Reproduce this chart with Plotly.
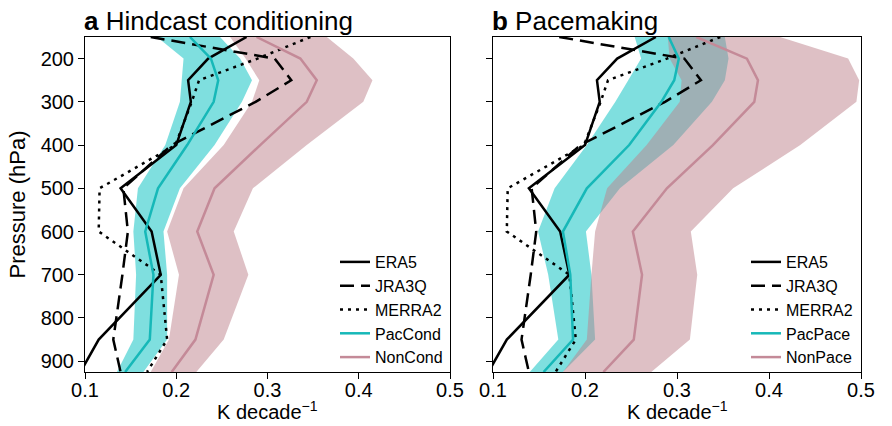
import plotly.graph_objects as go

# Pressure levels (hPa)
pressure = [150, 200, 250, 300, 400, 500, 600, 700, 850, 925]

# Observations / reanalyses (K decade^-1)
era5 = [0.277, 0.235, 0.213, 0.216, 0.200, 0.139, 0.173, 0.183, 0.115, 0.095]
jra3q = [0.172, 0.308, 0.326, 0.287, 0.195, 0.142, 0.147, 0.141, 0.131, 0.139]
merra2 = [0.347, 0.289, 0.225, 0.217, 0.199, 0.116, 0.115, 0.183, 0.190, 0.168]

# Panel a: hindcast conditioning
paccond_mean = [0.215, 0.238, 0.246, 0.241, 0.212, 0.180, 0.166, 0.175, 0.171, 0.144]
paccond_lo = [0.179, 0.208, 0.206, 0.204, 0.188, 0.158, 0.153, 0.156, 0.153, 0.135]
paccond_hi = [0.248, 0.270, 0.283, 0.272, 0.242, 0.204, 0.186, 0.190, 0.190, 0.164]
noncond_mean = [0.288, 0.336, 0.354, 0.343, 0.292, 0.242, 0.223, 0.241, 0.221, 0.195]
noncond_lo = [0.259, 0.276, 0.291, 0.283, 0.252, 0.208, 0.190, 0.203, 0.192, 0.172]
noncond_hi = [0.365, 0.394, 0.415, 0.405, 0.343, 0.284, 0.263, 0.279, 0.252, 0.222]

# Panel b: pacemaking
pacpace_mean = [0.291, 0.302, 0.297, 0.283, 0.248, 0.202, 0.176, 0.184, 0.187, 0.155]
pacpace_lo = [0.254, 0.261, 0.247, 0.233, 0.202, 0.167, 0.149, 0.160, 0.171, 0.140]
pacpace_hi = [0.352, 0.356, 0.352, 0.338, 0.296, 0.238, 0.201, 0.207, 0.211, 0.176]
nonpace_mean = [0.321, 0.376, 0.388, 0.384, 0.339, 0.289, 0.252, 0.262, 0.253, 0.220]
nonpace_lo = [0.290, 0.292, 0.305, 0.303, 0.267, 0.224, 0.211, 0.207, 0.202, 0.176]
nonpace_hi = [0.412, 0.486, 0.498, 0.495, 0.434, 0.361, 0.315, 0.322, 0.314, 0.272]

x_ticks = [0.1, 0.2, 0.3, 0.4, 0.5]
y_ticks = [200, 300, 400, 500, 600, 700, 800, 900]

panel_titles = ["<b>a</b> Hindcast conditioning", "<b>b</b> Pacemaking"]
x_title = "K decade<sup>−1</sup>"
y_title = "Pressure (hPa)"
model_names = [("PacCond", "NonCond"), ("PacPace", "NonPace")]

TEAL_LINE = "rgb(22,184,184)"
TEAL_FILL = "rgba(0,192,192,0.5)"
PINK_LINE = "rgb(196,138,152)"
PINK_FILL = "rgba(190,130,140,0.5)"
FONT = "Liberation Sans, Arial, Helvetica, sans-serif"

fig = go.Figure()

panels = [
    (paccond_mean, paccond_lo, paccond_hi, noncond_mean, noncond_lo, noncond_hi),
    (pacpace_mean, pacpace_lo, pacpace_hi, nonpace_mean, nonpace_lo, nonpace_hi),
]

for i, (pm, plo, phi, nm, nlo, nhi) in enumerate(panels):
    xa = "x" if i == 0 else "x2"
    ya = "y" if i == 0 else "y2"
    lg = "legend" if i == 0 else "legend2"
    # bands
    fig.add_trace(go.Scatter(x=plo + phi[::-1], y=pressure + pressure[::-1], fill="toself",
                             fillcolor=TEAL_FILL, line=dict(width=0), mode="lines",
                             hoverinfo="skip", showlegend=False, xaxis=xa, yaxis=ya))
    fig.add_trace(go.Scatter(x=nlo + nhi[::-1], y=pressure + pressure[::-1], fill="toself",
                             fillcolor=PINK_FILL, line=dict(width=0), mode="lines",
                             hoverinfo="skip", showlegend=False, xaxis=xa, yaxis=ya))
    # observations
    fig.add_trace(go.Scatter(x=era5, y=pressure, mode="lines", name="ERA5",
                             line=dict(color="black", width=2.5), xaxis=xa, yaxis=ya, legend=lg))
    fig.add_trace(go.Scatter(x=jra3q, y=pressure, mode="lines", name="JRA3Q",
                             line=dict(color="black", width=2.5, dash="14px,7px"),
                             xaxis=xa, yaxis=ya, legend=lg))
    fig.add_trace(go.Scatter(x=merra2, y=pressure, mode="lines", name="MERRA2",
                             line=dict(color="black", width=2.5, dash="3px,5px"),
                             xaxis=xa, yaxis=ya, legend=lg))
    # model means
    fig.add_trace(go.Scatter(x=pm, y=pressure, mode="lines", name=model_names[i][0],
                             line=dict(color=TEAL_LINE, width=2.5), xaxis=xa, yaxis=ya, legend=lg))
    fig.add_trace(go.Scatter(x=nm, y=pressure, mode="lines", name=model_names[i][1],
                             line=dict(color=PINK_LINE, width=2.5), xaxis=xa, yaxis=ya, legend=lg))

W, H = 892, 426
ML, MT = 85, 37
MR = W - 861
MB = H - 372
PW = W - ML - MR
PH = H - MT - MB
d1 = [0, (450 - 85) / PW]
d2 = [(493 - 85) / PW, 1]

axis_common = dict(showline=True, mirror=True, linecolor="black", linewidth=1,
                   ticks="outside", ticklen=6, tickcolor="black", tickwidth=1,
                   showgrid=False, zeroline=False, automargin=False,
                   tickfont=dict(size=20, color="black", family=FONT))

xcommon = dict(axis_common, range=[0.1, 0.5], tickvals=x_ticks,
               ticktext=[f"{v:.1f}" for v in x_ticks], ticklabelstandoff=-6)
ycommon = dict(axis_common, range=[925, 150], tickvals=y_ticks)

legend_common = dict(xanchor="left", yanchor="top", bgcolor="rgba(0,0,0,0)",
                     font=dict(size=16, color="black", family=FONT),
                     itemwidth=30, tracegroupgap=0)

leg_x = (335 - ML) / PW
leg_y = (372 - 245) / PH

fig.update_layout(
    width=W, height=H,
    margin=dict(l=ML, r=MR, t=MT, b=MB),
    paper_bgcolor="white", plot_bgcolor="white",
    font=dict(family=FONT, color="black"),
    xaxis=dict(xcommon, domain=d1, anchor="y"),
    xaxis2=dict(xcommon, domain=d2, anchor="y2"),
    yaxis=dict(ycommon, domain=[0, 1], anchor="x",
               title=dict(text=y_title, standoff=8,
                          font=dict(size=22, color="black", family=FONT))),
    yaxis2=dict(ycommon, domain=[0, 1], anchor="x2", showticklabels=False),
    legend=dict(legend_common, x=leg_x, y=leg_y),
    legend2=dict(legend_common, x=leg_x + 411 / PW, y=leg_y),
    showlegend=True,
)

for i, t in enumerate(panel_titles):
    dom = d1 if i == 0 else d2
    fig.add_annotation(text=t, xref="paper", yref="paper", x=dom[0], y=1,
                       xanchor="left", yanchor="bottom", yshift=0, xshift=-2, borderpad=0,
                       showarrow=False, font=dict(size=26, color="black", family=FONT))
    # x-axis title centred under each panel
    fig.add_annotation(text=x_title, xref="paper", yref="paper", x=(dom[0] + dom[1]) / 2,
                       y=(372 - 410) / PH, xanchor="center", yanchor="middle", showarrow=False,
                       borderpad=0, font=dict(size=20, color="black", family=FONT))

# remove the browser's default 8px page margin so the figure fills the window exactly
fig.write_html("out.html", config={"displayModeBar": False},
               post_script="document.body.style.margin='0px';")
